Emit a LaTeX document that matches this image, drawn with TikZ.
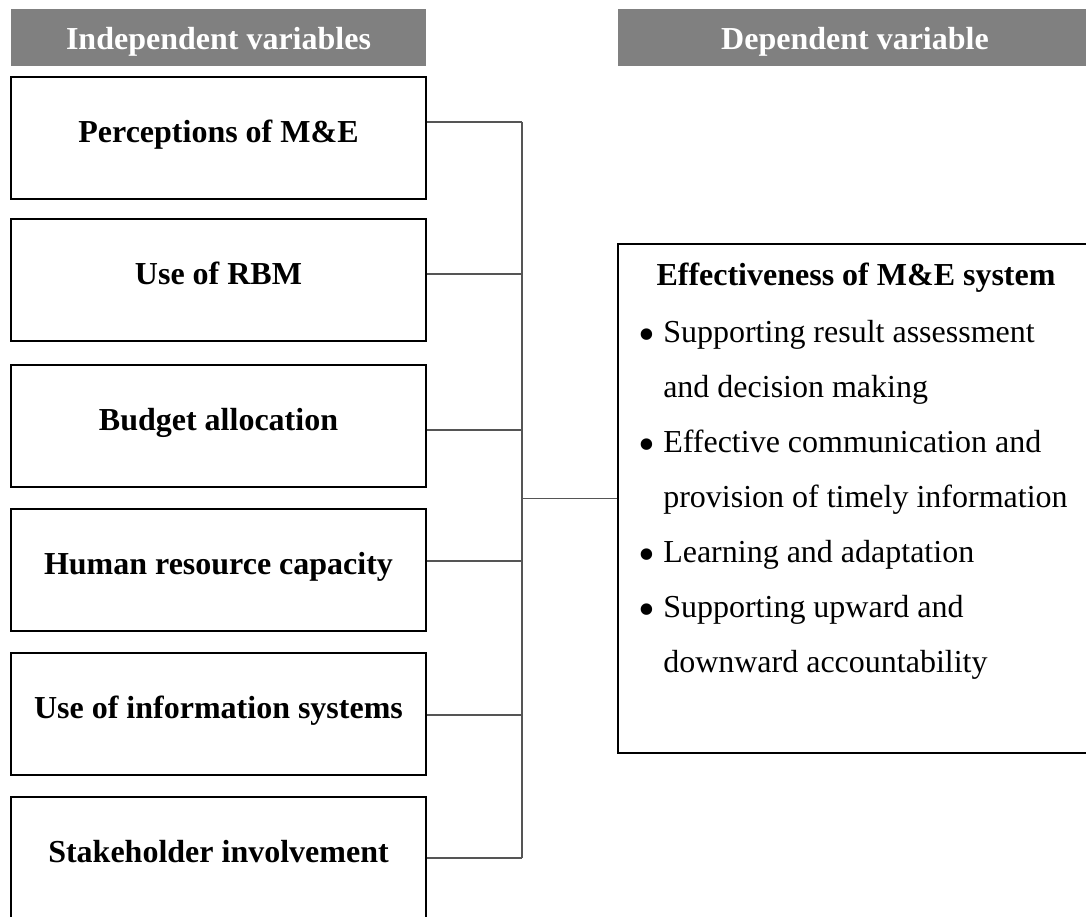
\documentclass[tikz,border=0pt]{standalone}
\usepackage{fontspec}
\setmainfont{Liberation Serif}
\definecolor{headgray}{HTML}{808080}
\definecolor{linkgray}{HTML}{555555}
% list bullet, a little heavier than the font's own
\newcommand{\itembullet}{\makebox[17.25pt][l]{\hspace*{-1.5pt}\raisebox{-6.5pt}{\scalebox{1.5}{\textbullet}}}}
\begin{document}
\begin{tikzpicture}[x=0.75pt,y=-0.75pt,
  headbox/.style={fill=headgray, draw=none, inner sep=0pt, text=white,
    font=\fontsize{24pt}{28pt}\selectfont\bfseries,
    minimum height=42.75pt, text height=20pt, text depth=1.25pt},
  varbox/.style={draw=black, line width=1.3pt, inner sep=0pt,
    minimum width=311.25pt, minimum height=91.5pt,
    font=\fontsize{24pt}{28pt}\selectfont\bfseries,
    text height=12pt, text depth=5.25pt},
  effbox/.style={draw=black, line width=1.3pt, inner sep=0pt,
    minimum width=361.5pt, minimum height=381.75pt},
  link/.style={draw=linkgray, line width=1pt},
  bus/.style={draw=linkgray, line width=1.15pt}]

% page frame
\useasboundingbox (0,0) rectangle (1086,917);

% column headings
\node[headbox, minimum width=311.25pt] (hind) at (218.5,37.5) {Independent variables};
\node[headbox, minimum width=355.5pt] (hdep) at (855,37.5) {Dependent variable};

% independent variables
\node[varbox] (b1) at (218.5,138) {Perceptions of M\&E};
\node[varbox] (b2) at (218.5,280) {Use of RBM};
\node[varbox] (b3) at (218.5,426) {Budget allocation};
\node[varbox] (b4) at (218.5,570) {Human resource capacity};
\node[varbox] (b5) at (218.5,714) {Use of information systems};
\node[varbox] (b6) at (218.5,858) {Stakeholder involvement};

% dependent variable
\node[effbox] (eff) at (859,498.5) {};
\node[anchor=base, inner sep=0pt, font=\fontsize{24pt}{28pt}\selectfont\bfseries]
  (effhead) at (856,285) {Effectiveness of M\&E system};
\node[anchor=base west, inner sep=0pt] (efflist) at (640,342) {%
  \begin{minipage}[t]{334.5pt}
    \fontsize{24pt}{41.25pt}\selectfont\setlength{\parindent}{0pt}%
    \itembullet Supporting result assessment\par
    \hspace*{17.25pt}and decision making\par
    \itembullet Effective communication and\par
    \hspace*{17.25pt}provision of timely information\par
    \itembullet Learning and adaptation\par
    \itembullet Supporting upward and\par
    \hspace*{17.25pt}downward accountability
  \end{minipage}};

% junction points on the collecting line
\coordinate (j1) at (522,122);
\coordinate (j2) at (522,274);
\coordinate (j3) at (522,430);
\coordinate (j4) at (522,561);
\coordinate (j5) at (522,715);
\coordinate (j6) at (522,858);
\coordinate (hub) at (522,498.5);

% connectors
\draw[link] (b1.east |- j1) -- (j1);
\draw[link] (b2.east |- j2) -- (j2);
\draw[link] (b3.east |- j3) -- (j3);
\draw[link] (b4.east |- j4) -- (j4);
\draw[link] (b5.east |- j5) -- (j5);
\draw[link] (b6.east |- j6) -- (j6);
\draw[bus] (j1) -- (j6);
\draw[link] (hub) -- (eff.west);
\end{tikzpicture}
\end{document}
